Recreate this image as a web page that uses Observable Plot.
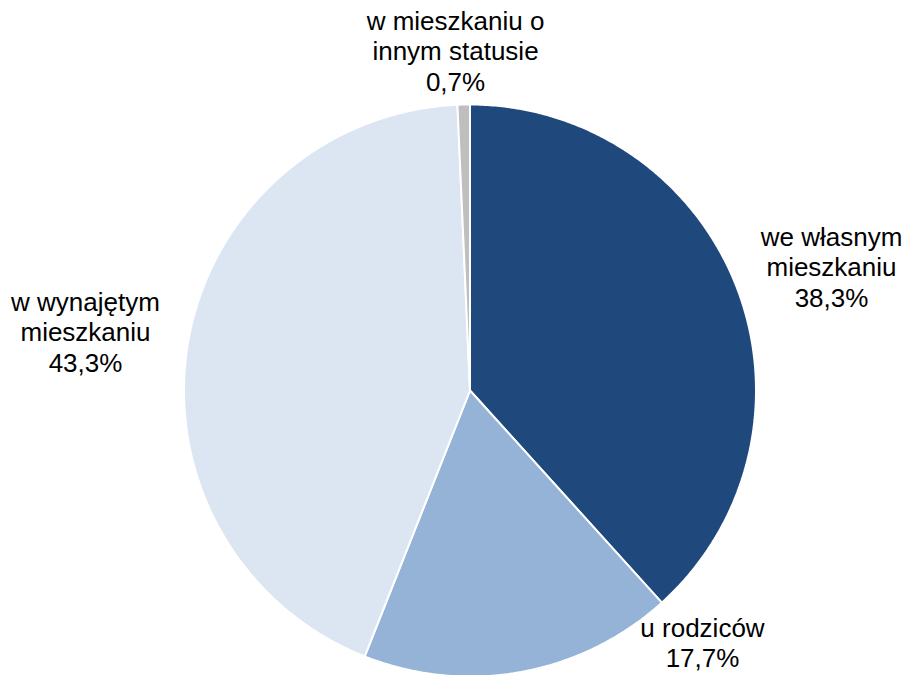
<!DOCTYPE html>
<html><head><meta charset="utf-8">
<script src="https://cdn.jsdelivr.net/npm/d3@7"></script>
<script src="https://cdn.jsdelivr.net/npm/@observablehq/plot@0.6"></script>
<style>body{margin:0;background:#fff;} svg{display:block;}</style>
</head><body><div id="chart"></div>
<script>
const categories = ["we własnym mieszkaniu", "u rodziców", "w wynajętym mieszkaniu", "w mieszkaniu o innym statusie"];
const labelTexts = ["we własnym\nmieszkaniu", "u rodziców", "w wynajętym\nmieszkaniu", "w mieszkaniu o\ninnym statusie"];
const values = [38.3, 17.7, 43.3, 0.7];
const colors = ["#1F497D", "#95B3D7", "#DCE6F2", "#BFBFBF"];

// layout (pixels)
const W = 907, H = 675, R = 286, CX = 469.5, CY = 390;
const labelPos = [[831, 266], [702, 642], [85, 331], [455, 50]];

const arcs = d3.pie().sort(null).startAngle(0).endAngle(2 * Math.PI)(values);
const pts = [];
arcs.forEach((a, i) => {
  const name = categories[i];
  pts.push({name, x: 0, y: 0});
  const n = Math.max(2, Math.ceil((a.endAngle - a.startAngle) / (Math.PI / 360)));
  for (let k = 0; k <= n; k++) {
    const t = a.startAngle + (a.endAngle - a.startAngle) * k / n;
    pts.push({name, x: Math.sin(t), y: Math.cos(t)});
  }
  pts.push({name, x: 0, y: 0});
});

const labelData = categories.map((c, i) => ({
  name: c,
  text: labelTexts[i] + "\n" + values[i].toFixed(1).replace(".", ",") + "%",
  x: (labelPos[i][0] - CX) / R,
  y: (CY - labelPos[i][1]) / R
}));

const chart = Plot.plot({
  width: W, height: H, margin: 0,
  style: {background: "#fff"},
  x: {domain: [-CX / R, (W - CX) / R], axis: null},
  y: {domain: [(CY - H) / R, CY / R], axis: null},
  color: {domain: categories, range: colors},
  marks: [
    Plot.line(pts, {x: "x", y: "y", z: "name", fill: "name", stroke: "white", strokeWidth: 2, curve: "linear", strokeLinejoin: "miter"}),
    Plot.text(labelData, {x: "x", y: "y", text: "text", fontSize: 26, lineHeight: 1.17, fill: "#000", fontFamily: "'Liberation Sans', Arial, sans-serif"})
  ]
});
document.getElementById("chart").append(chart);
</script>
</body></html>
